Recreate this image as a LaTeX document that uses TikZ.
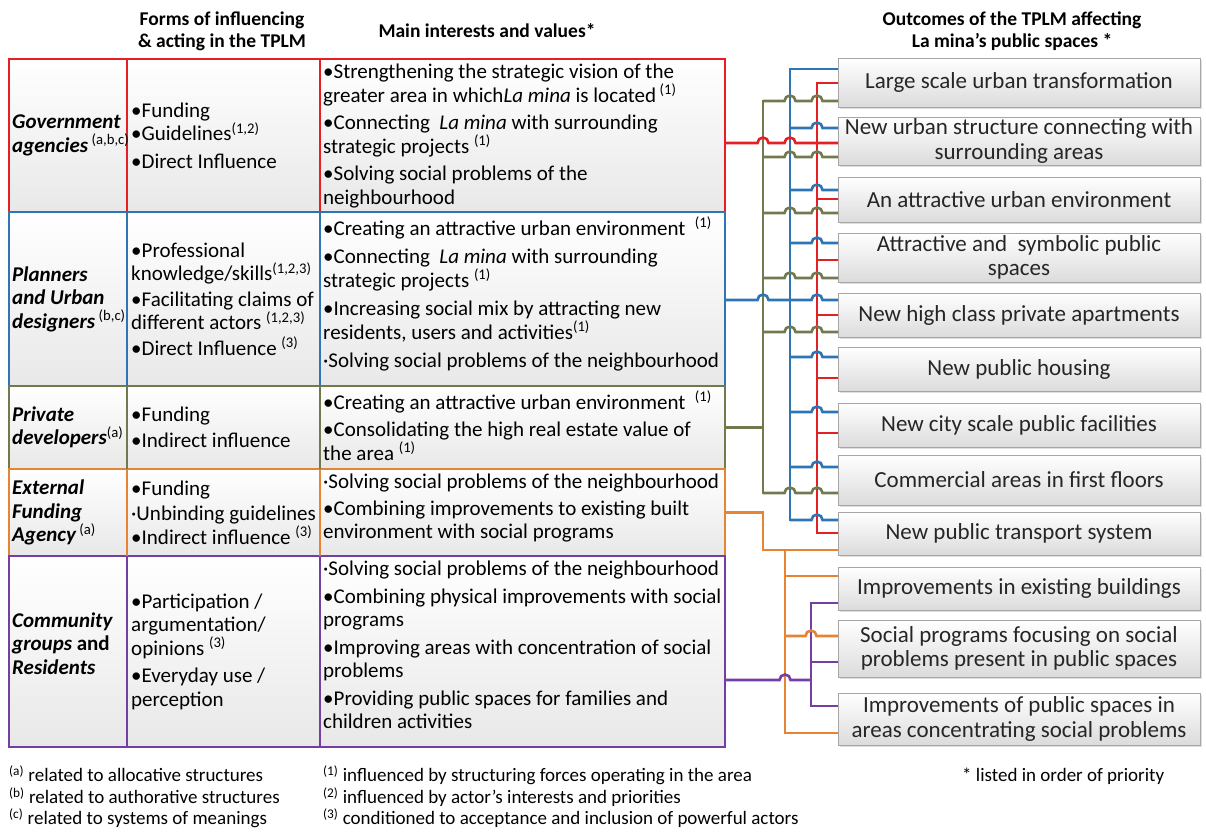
\documentclass[tikz,border=0pt]{standalone}
\usepackage{fontspec}
\setmainfont{Carlito}
\usetikzlibrary{positioning,calc,shadows}

\definecolor{govred}{RGB}{228,32,38}
\definecolor{planblue}{RGB}{46,117,182}
\definecolor{privgreen}{RGB}{112,122,78}
\definecolor{extorange}{RGB}{228,132,52}
\definecolor{commpurple}{RGB}{116,62,164}

% connector from an outcome box back to a bus, hopping over the listed x's
\newcommand{\hopline}[5]{%
  \draw[conn,#1] let \p1=([yshift=#3]#2.west), \p2=(#4) in (\p1)
    \foreach \h in {#5}{ -- ({\h*1pt+5.5pt},\y1) arc[start angle=0,end angle=180,radius=5.5pt] }
    -- (\x2,\y1);}
\newcommand{\branchline}[4]{%
  \draw[conn,#1] let \p1=([yshift=#3]#2.west), \p2=(#4) in (\p1) -- (\x2,\y1);}

\begin{document}
\begin{tikzpicture}[%
    x=1pt, y=1pt,
    conn/.style={line width=2.6pt},
    bus/.style={line width=2.6pt, line cap=rect},
    rowframe/.style={%
      rectangle, draw=#1, line width=1.9pt, outer sep=0pt, inner sep=0pt,
      minimum width=716pt, anchor=north west,
      top color=white, bottom color=black!9
    },
    actor/.style={anchor=west, align=left, inner sep=0pt,
      font=\fontsize{21}{23.5}\selectfont\bfseries\itshape},
    forms/.style={anchor=west, align=left, inner sep=0pt,
      font=\fontsize{21}{23.5}\selectfont},
    interest/.style={anchor=north west, align=left, inner sep=0pt,
      font=\fontsize{21}{23.5}\selectfont},
    head/.style={align=center, font=\fontsize{19.5}{22}\selectfont\bfseries},
    outcome/.style={%
      rectangle, draw=black!35, line width=0.8pt, outer sep=0pt, inner sep=1pt,
      top color=white, bottom color=black!14, minimum width=362pt,
      align=center, text=black!85, font=\fontsize{23}{24.5}\selectfont,
      drop shadow={opacity=0.25, shadow xshift=1.5pt, shadow yshift=-1.5pt}
    },
    note/.style={anchor=west, align=left, inner sep=0pt,
      font=\fontsize{19}{21.5}\selectfont}
  ]
  \fill[white] (0,0) rectangle (1206,-836);
  \useasboundingbox (0,0) rectangle (1206,-836);

  % headers
  \node[head] (hforms) at (222,-31) {Forms of influencing\\\& acting in the TPLM};
  \node[head] (hmain) at (487,-31) {Main interests and values*};
  \node[head] (hout) at (1012,-31) {Outcomes of the TPLM affecting\\La mina’s public spaces *};

  % table rows
  \node[rowframe=govred, minimum height=153pt] (gov) at (9,-59) {};
  \node[rowframe=planblue, minimum height=174pt] (plan) at (9,-212) {};
  \node[rowframe=privgreen, minimum height=83pt] (priv) at (9,-386) {};
  \node[rowframe=extorange, minimum height=87pt] (ext) at (9,-469) {};
  \node[rowframe=commpurple, minimum height=191pt] (comm) at (9,-556) {};
  \foreach \r/\c in {gov/govred, plan/planblue, priv/privgreen, ext/extorange, comm/commpurple}
    \draw[\c, line width=1.9pt] ([xshift=118pt]\r.north west) -- ([xshift=118pt]\r.south west)
      ([xshift=311pt]\r.north west) -- ([xshift=311pt]\r.south west);

  % actors
  \node[actor] (govA) at ([xshift=3pt]gov.west) {Government\\agencies\,\textsuperscript{\normalfont(a,b,c)}};
  \node[actor] (planA) at ([xshift=3pt]plan.west) {Planners\\and Urban\\designers\,\textsuperscript{\normalfont(b,c)}};
  \node[actor] (privA) at ([xshift=3pt]priv.west) {Private\\developers\textsuperscript{\normalfont(a)}};
  \node[actor] (extA) at ([xshift=3pt]ext.west) {External\\Funding\\Agency\,\textsuperscript{\normalfont(a)}};
  \node[actor] (commA) at ([xshift=3pt,yshift=8pt]comm.west) {Community\\groups {\upshape and}\\Residents};

  % forms of influencing
  \node[forms] (govF) at ([xshift=122pt]gov.west) {•Funding\\•Guidelines\textsuperscript{(1,2)}\\[4pt]•Direct Influence};
  \node[forms] (planF) at ([xshift=122pt]plan.west) {•Professional\\knowledge/skills\textsuperscript{(1,2,3)}\\[2pt]•Facilitating claims of\\different actors \textsuperscript{(1,2,3)}\\[2pt]•Direct Influence \textsuperscript{(3)}};
  \node[forms] (privF) at ([xshift=122pt]priv.west) {•Funding\\[3pt]•Indirect influence};
  \node[forms] (extF) at ([xshift=122pt]ext.west) {•Funding\\[2pt]·Unbinding guidelines\\•Indirect influence \textsuperscript{(3)}};
  \node[forms] (commF) at ([xshift=122pt]comm.west) {•Participation /\\argumentation/\\opinions \textsuperscript{(3)}\\[4pt]•Everyday use /\\perception};

  % main interests and values
  \node[interest] (govI) at ([xshift=314pt,yshift=-5pt]gov.north west) {•Strengthening the strategic vision of the\\greater area in which\textit{La mina} is located\,\textsuperscript{(1)}\\[4pt]•Connecting \ \textit{La mina} with surrounding\\strategic projects \textsuperscript{(1)}\\[4pt]•Solving social problems of the\\neighbourhood};
  \node[interest] (planI) at ([xshift=314pt,yshift=-5pt]plan.north west) {•Creating an attractive urban environment \ \textsuperscript{(1)}\\[5pt]•Connecting \ \textit{La mina} with surrounding\\strategic projects \textsuperscript{(1)}\\[5pt]•Increasing social mix by attracting new\\residents, users and activities\textsuperscript{(1)}\\[5pt]·Solving social problems of the neighbourhood};
  \node[interest] (privI) at ([xshift=314pt,yshift=-5pt]priv.north west) {•Creating an attractive urban environment \ \textsuperscript{(1)}\\[4pt]•Consolidating the high real estate value of\\the area \textsuperscript{(1)}};
  \node[interest] (extI) at ([xshift=314pt,yshift=-5pt]ext.north west) {·Solving social problems of the neighbourhood\\[3pt]•Combining improvements to existing built\\environment with social programs};
  \node[interest] (commI) at ([xshift=314pt,yshift=-5pt]comm.north west) {·Solving social problems of the neighbourhood\\[4pt]•Combining physical improvements with social\\programs\\[4pt]•Improving areas with concentration of social\\problems\\[4pt]•Providing public spaces for families and\\children activities};

  % outcomes
  \node[outcome, minimum height=49pt] (o1) at (1019,-82.5) {Large scale urban transformation};
  \node[outcome, minimum height=48pt, below=10pt of o1] (o2) {New urban structure connecting with\\surrounding areas};
  \node[outcome, minimum height=45pt, below=12pt of o2] (o3) {An attractive urban environment};
  \node[outcome, minimum height=49pt, below=11pt of o3] (o4) {Attractive and \ symbolic public\\spaces};
  \node[outcome, minimum height=44pt, below=11pt of o4] (o5) {New high class private apartments};
  \node[outcome, minimum height=44pt, below=10pt of o5] (o6) {New public housing};
  \node[outcome, minimum height=44pt, below=12pt of o6] (o7) {New city scale public facilities};
  \node[outcome, minimum height=50pt, below=8pt of o7] (o8) {Commercial areas in first floors};
  \node[outcome, minimum height=43pt, below=7pt of o8] (o9) {New public transport system};
  \node[outcome, minimum height=43pt, below=12pt of o9] (o10) {Improvements in existing buildings};
  \node[outcome, minimum height=57pt, below=10pt of o10] (o11) {Social programs focusing on social\\problems present in public spaces};
  \node[outcome, minimum height=52pt, below=16pt of o11] (o12) {Improvements of public spaces in\\areas concentrating social problems};

  % buses
  \coordinate (gbus) at (763,0);
  \coordinate (bbus) at (790,0);
  \coordinate (rbus) at (817,0);
  \coordinate (obus) at (785,0);
  \coordinate (pbus) at (811,0);
  \draw[bus,privgreen] (763,-101) -- (763,-493);
  \draw[bus,planblue] (790,-69) -- (790,-520);
  \draw[bus,govred] (817,-83) -- (817,-533);
  \draw[bus,extorange] (785,-550) -- (785,-733);
  \draw[bus,commpurple] (811,-603) -- (811,-706);

  % from the table
  \hopline{govred}{o2}{-2pt}{gov.east}{790,763}
  \hopline{planblue}{o5}{15pt}{plan.east}{817,763}
  \draw[conn,privgreen] (priv.east) -- (gbus |- priv.east);
  \draw[conn,extorange] (ext.east) -| (763,-550) -- ([yshift=-16.5pt]o9.west);
  \draw[conn,commpurple] let \p1=([yshift=-28.5pt]comm.east), \p2=(pbus) in
    (\p1) -- (779.5pt,\y1) arc[start angle=180,end angle=0,radius=5.5pt] -- (\x2,\y1);

  % red
  \branchline{govred}{o1}{-0.5pt}{rbus}
  \branchline{govred}{o3}{0.5pt}{rbus}
  \branchline{govred}{o4}{-2.5pt}{rbus}
  \branchline{govred}{o5}{0pt}{rbus}
  \branchline{govred}{o6}{-9pt}{rbus}
  \branchline{govred}{o7}{-8pt}{rbus}
  \branchline{govred}{o9}{0.5pt}{rbus}
  % blue
  \branchline{planblue}{o1}{13.5pt}{bbus}
  \hopline{planblue}{o2}{13pt}{bbus}{817}
  \hopline{planblue}{o3}{9.5pt}{bbus}{817}
  \hopline{planblue}{o4}{14.5pt}{bbus}{817}
  \hopline{planblue}{o6}{12pt}{bbus}{817}
  \hopline{planblue}{o7}{13pt}{bbus}{817}
  \hopline{planblue}{o8}{13pt}{bbus}{817}
  \hopline{planblue}{o9}{13.5pt}{bbus}{817}
  % green
  \hopline{privgreen}{o1}{-18.5pt}{gbus}{817,790}
  \hopline{privgreen}{o2}{-16pt}{gbus}{817,790}
  \hopline{privgreen}{o3}{-13.5pt}{gbus}{817,790}
  \hopline{privgreen}{o4}{-20.5pt}{gbus}{817,790}
  \hopline{privgreen}{o5}{-17pt}{gbus}{817,790}
  \hopline{privgreen}{o8}{-13pt}{gbus}{817,790}
  % orange
  \branchline{extorange}{o10}{12.5pt}{obus}
  \hopline{extorange}{o11}{12.5pt}{obus}{811}
  \branchline{extorange}{o12}{-14pt}{obus}
  % purple
  \branchline{commpurple}{o10}{-14.5pt}{pbus}
  \branchline{commpurple}{o11}{-13.5pt}{pbus}
  \branchline{commpurple}{o12}{13pt}{pbus}

  % footnotes
  \node[note] (fa) at (9,-797) {\textsuperscript{(a)} related to allocative structures\\\textsuperscript{(b)} related to authorative structures\\\textsuperscript{(c)} related to systems of meanings};
  \node[note] (fn) at (323,-797) {\textsuperscript{(1)} influenced by structuring forces operating in the area\\\textsuperscript{(2)} influenced by actor’s interests and priorities\\\textsuperscript{(3)} conditioned to acceptance and inclusion of powerful actors};
  \node[note] (fs) at (962,-776) {* listed in order of priority};
\end{tikzpicture}
\end{document}
